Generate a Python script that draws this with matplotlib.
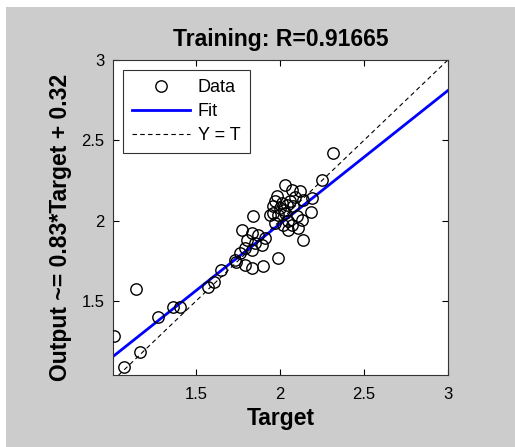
import matplotlib
matplotlib.use('Agg')
import matplotlib.pyplot as plt
import numpy as np
from matplotlib.ticker import FormatStrFormatter
from matplotlib.patches import Rectangle

plt.rcParams['font.family'] = ['Liberation Sans', 'DejaVu Sans']

# targets and network outputs
target = [1.012, 1.071, 1.165, 1.145, 1.274, 1.365, 1.405, 1.573, 1.607, 1.647,
          1.736, 1.772, 1.841, 1.871, 1.832, 1.911, 1.802, 1.851, 1.891, 1.792,
          1.832, 1.762, 1.732, 1.792, 1.832, 1.901, 1.990, 1.960,
          2.030, 2.070, 2.119, 1.980, 2.139, 1.970, 1.960, 2.000, 2.040, 2.079,
          2.183, 1.941, 1.990, 2.030, 2.099, 2.129, 1.970, 2.020, 2.070, 2.109,
          2.050, 2.135, 2.189, 2.248, 2.317, 2.010, 2.060, 2.045, 2.090, 2.025]
output = [1.284, 1.089, 1.182, 1.573, 1.404, 1.462, 1.462, 1.590, 1.621, 1.694,
          1.741, 1.944, 2.027, 1.913, 1.923, 1.893, 1.882, 1.862, 1.851, 1.830,
          1.820, 1.799, 1.758, 1.727, 1.706, 1.716, 1.768, 2.048,
          2.224, 2.193, 2.182, 2.151, 2.130, 2.120, 2.089, 2.079, 2.099, 2.089,
          2.052, 2.037, 2.037, 2.048, 2.027, 2.006, 1.986, 1.975, 1.975, 1.955,
          1.944, 1.882, 2.141, 2.253, 2.422, 2.110, 2.120, 2.000, 2.150, 2.065]

slope = 0.83
offset = 0.32
r_value = '0.91665'
x_min, x_max = 1.006, 3.0
y_min, y_max = 1.04, 3.0

grey = '#cccccc'
W, H = 515, 447
fig = plt.figure(figsize=(W / 100, H / 100), dpi=100, facecolor=grey)

# white screenshot edges at the top and on the left
fig.patches.append(Rectangle((0, 1 - 7 / H), 1, 7 / H, transform=fig.transFigure,
                             facecolor='white', lw=0, zorder=-1))
fig.patches.append(Rectangle((0, 0), 6 / W, 1, transform=fig.transFigure,
                             facecolor='white', lw=0, zorder=-1))

ax = fig.add_axes([0.2194, 0.161, 0.6505, 0.705])
ax.set_facecolor('white')

xs = np.array([x_min, x_max])
ax.plot(target, output, 'o', mfc='none', mec='black', ms=8.2, mew=1.0, label='Data', zorder=3)
ax.plot(xs, slope * xs + offset, color='#0000ff', lw=2, label='Fit', zorder=2)
ax.plot(xs, xs, '--', color='black', lw=0.8, dashes=(4, 3), label='Y = T', zorder=1)

ax.set_xlim(x_min, x_max)
ax.set_ylim(y_min, y_max)
ax.set_xticks([1.5, 2, 2.5, 3])
ax.set_yticks([1.5, 2, 2.5, 3])
ax.xaxis.set_major_formatter(FormatStrFormatter('%g'))
ax.yaxis.set_major_formatter(FormatStrFormatter('%g'))
ax.tick_params(direction='in', length=4, width=0.8, top=True, right=True,
               labelsize=12, colors='black')
ax.tick_params(axis='x', pad=8.5)
ax.tick_params(axis='y', pad=6)
for s in ax.spines.values():
    s.set_color('#333333')
    s.set_linewidth(0.8)

ax.set_title('Training: R=' + r_value, fontsize=16.5, fontweight='bold', pad=10)
ax.set_xlabel('Target', fontsize=16.5, fontweight='bold', labelpad=4)
ax.set_ylabel('Output ~= 0.83*Target + 0.32', fontsize=16.5, fontweight='bold')
ax.yaxis.set_label_coords(-0.122, 0.467)

leg = ax.legend(loc='upper left', fontsize=13, frameon=True, fancybox=False,
                edgecolor='black', borderaxespad=0.55, handlelength=3.2,
                labelspacing=0.4, borderpad=0.5, handletextpad=0.45)
leg.get_frame().set_linewidth(0.8)

fig.savefig('out.png', dpi=100, facecolor=grey)
